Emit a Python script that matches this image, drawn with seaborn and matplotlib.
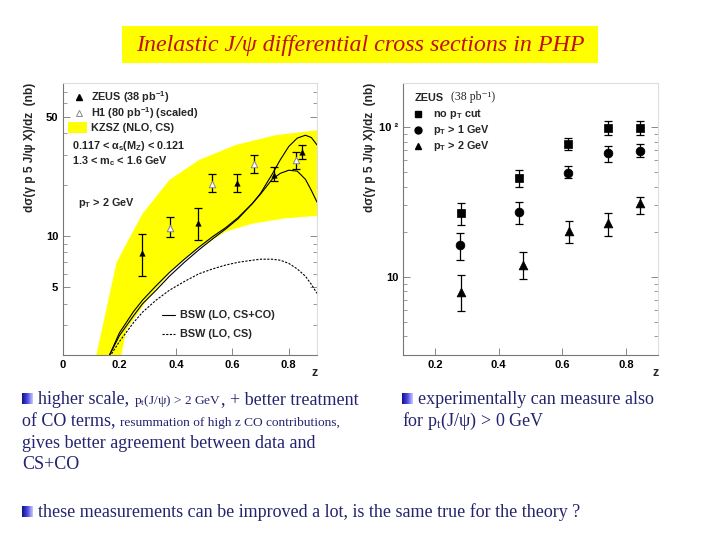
import numpy as np
import seaborn as sns
import matplotlib.pyplot as plt
from matplotlib.patches import Rectangle
from matplotlib.ticker import FixedLocator, FixedFormatter, NullFormatter

# ---- left panel: pT > 2 GeV, ZEUS vs H1 vs theory ----
zeus_z = [0.28, 0.478, 0.618, 0.747, 0.847]
zeus_y = [7.9, 11.9, 20.4, 22.9, 31.2]
zeus_lo = [5.8, 9.4, 18.1, 21.0, 28.2]
zeus_hi = [10.3, 14.6, 23.2, 25.4, 34.4]

h1_z = [0.379, 0.527, 0.677, 0.826]
h1_y = [11.2, 20.3, 26.5, 27.9]
h1_lo = [9.9, 18.0, 23.5, 24.8]
h1_hi = [12.9, 23.0, 29.8, 31.0]

# KZSZ NLO band edges
kzsz_up_z = [0.118, 0.19, 0.235, 0.282, 0.377, 0.482, 0.612, 0.753, 0.9]
kzsz_up = [2.0, 7.0, 9.7, 13.5, 21.3, 27.9, 34.2, 39.0, 41.7]
kzsz_lo_z = [0.207, 0.224, 0.306, 0.388, 0.477, 0.577, 0.671, 0.788, 0.9]
kzsz_lo = [2.0, 2.8, 4.4, 6.3, 8.4, 10.6, 11.8, 12.7, 13.1]

# BSW curves
bsw_z = [0.165, 0.2, 0.25, 0.282, 0.33, 0.377, 0.43, 0.482, 0.53, 0.577,
         0.62, 0.671, 0.70, 0.741, 0.77, 0.80, 0.83, 0.859, 0.88, 0.9]
bsw_csco_1 = [2.0, 2.6, 3.4, 4.0, 4.8, 5.8, 7.0, 8.3, 9.6, 11.0,
              12.6, 15.5, 17.8, 23.0, 28.0, 33.5, 37.5, 39.0, 37.8, 34.2]
bsw_csco_2 = [2.0, 2.7, 3.6, 4.2, 5.1, 6.1, 7.3, 8.6, 9.9, 11.2,
              12.8, 15.5, 17.6, 21.5, 23.3, 24.3, 24.0, 21.5, 18.5, 15.8]
bsw_cs = [1.95, 2.4, 3.1, 3.57, 4.2, 4.8, 5.4, 6.0, 6.4, 6.75,
          7.0, 7.2, 7.3, 7.3, 7.2, 6.9, 6.4, 5.8, 5.2, 4.6]

# ---- right panel: ZEUS for three pT cuts ----
nocut_z = [0.283, 0.465, 0.617, 0.745, 0.843]
nocut_y = [26.5, 45.5, 77, 98, 98]
nocut_lo = [22.1, 40, 70, 88.5, 88]
nocut_hi = [31, 51.7, 84, 110, 110]

pt1_z = [0.278, 0.465, 0.617, 0.745, 0.843]
pt1_y = [16.3, 27.2, 49.6, 66.8, 69.5]
pt1_lo = [12.9, 22.5, 45.5, 58.7, 62.8]
pt1_hi = [19.7, 31.7, 55, 74.8, 77]

pt2_z = [0.283, 0.476, 0.62, 0.745, 0.845]
pt2_y = [7.94, 12.0, 20.2, 23.0, 31.2]
pt2_lo = [5.9, 9.6, 16.9, 18.8, 26.2]
pt2_hi = [10.3, 14.7, 23.7, 26.8, 34.3]

TXT = '#24246e'
SANS = 'Liberation Sans'
SERIF = 'Liberation Serif'

sns.set_theme(style='ticks')
plt.rcParams['font.family'] = [SANS, 'DejaVu Sans']
plt.rcParams['font.weight'] = 'bold'

fig = plt.figure(figsize=(7.2, 5.4), dpi=100)
fig.patch.set_facecolor('white')


def style_axes(ax):
    ax.set_yscale('log')
    ax.set_facecolor('white')
    for s in ['left', 'bottom']:
        ax.spines[s].set_color('#777777')
        ax.spines[s].set_linewidth(0.8)
    for s in ['top', 'right']:
        ax.spines[s].set_visible(True)
        ax.spines[s].set_color('#dddddd')
        ax.spines[s].set_linewidth(0.8)
    ax.tick_params(axis='both', which='both', direction='in', right=True,
                   colors='#888888', labelcolor='black', labelsize=8)
    ax.tick_params(which='major', length=5, width=0.7)
    ax.tick_params(which='minor', length=3, width=0.6)
    ax.set_xlabel('')
    ax.set_ylabel('')
    ax.text(0.99, -0.045, 'z', transform=ax.transAxes, ha='center', va='top',
            fontsize=9, fontweight='bold')
    ax.text(-0.13, 1.0, 'd\u03c3(\u03b3 p 5 J/\u03c8 X)/dz  (nb)', transform=ax.transAxes,
            rotation=90, ha='center', va='top', fontsize=8.6, fontweight='bold')


def errbars(ax, z, y, lo, hi):
    y = np.array(y)
    err = [y - np.array(lo), np.array(hi) - y]
    ax.errorbar(z, y, yerr=err, fmt='none', ecolor='black', elinewidth=0.9,
                capsize=3, capthick=0.9, zorder=3)


# ---------------- left panel ----------------
axl = fig.add_axes([63 / 720, 1 - 355 / 540, 254 / 720, 272 / 540])
band_x = kzsz_up_z + kzsz_lo_z[::-1]
band_y = kzsz_up + kzsz_lo[::-1]
axl.fill(band_x, band_y, color='#ffff00', lw=0, zorder=1)

sns.lineplot(x=bsw_z, y=bsw_csco_1, ax=axl, color='black', lw=0.8, zorder=2)
sns.lineplot(x=bsw_z, y=bsw_csco_2, ax=axl, color='black', lw=0.8, zorder=2)
sns.lineplot(x=bsw_z, y=bsw_cs, ax=axl, color='black', lw=0.8, zorder=2,
             dashes=False, linestyle=(0, (2, 1.3)))

errbars(axl, zeus_z, zeus_y, zeus_lo, zeus_hi)
errbars(axl, h1_z, h1_y, h1_lo, h1_hi)
sns.scatterplot(x=zeus_z, y=zeus_y, ax=axl, marker='^', s=16, color='black',
                edgecolor='black', zorder=4)
sns.scatterplot(x=h1_z, y=h1_y, ax=axl, marker='^', s=22, facecolor='white',
                edgecolor='#888888', linewidth=0.7, zorder=4)

axl.set_xlim(0, 0.9)
axl.set_ylim(2, 79)
style_axes(axl)
axl.set_xticks([0, 0.2, 0.4, 0.6, 0.8])
axl.set_xticklabels(['0', '0.2', '0.4', '0.6', '0.8'], fontweight='bold')
axl.yaxis.set_major_locator(FixedLocator([5, 10, 50]))
axl.yaxis.set_major_formatter(FixedFormatter(['5', '10', '50']))
axl.yaxis.set_minor_locator(FixedLocator([2, 3, 4, 6, 7, 8, 9, 20, 30, 40, 60, 70]))
axl.yaxis.set_minor_formatter(NullFormatter())
for lab in axl.get_yticklabels():
    lab.set_fontweight('bold')

# left legend
tA = axl.transAxes
axl.plot([0.063], [0.948], marker='^', ms=4.5, color='black', transform=tA, clip_on=False)
axl.plot([0.063], [0.89], marker='^', ms=5, mfc='white', mec='#888888', mew=0.7,
         transform=tA, clip_on=False)
axl.add_patch(Rectangle((0.02, 0.818), 0.075, 0.037, transform=tA, color='#ffff00', lw=0))
lk = dict(transform=tA, fontsize=7.8, fontweight='bold', va='center', ha='left')
axl.text(0.11, 0.948, 'ZEUS (38 pb$^{\\mathregular{-1}}$)', **lk)
axl.text(0.11, 0.89, 'H1 (80 pb$^{\\mathregular{-1}}$) (scaled)', **lk)
axl.text(0.11, 0.835, 'KZSZ (NLO, CS)', **lk)
axl.text(0.035, 0.768, '0.117 < \u03b1$_{\\mathregular{s}}$(M$_{\\mathregular{Z}}$) < 0.121', **lk)
axl.text(0.035, 0.713, '1.3 < m$_{\\mathregular{c}}$ < 1.6 GeV', **lk)
axl.text(0.059, 0.559, 'p$_{\\mathregular{T}}$ > 2 GeV', **lk)
axl.plot([0.39, 0.441], [0.147, 0.147], color='black', lw=0.8, transform=tA)
axl.plot([0.39, 0.441], [0.077, 0.077], color='black', lw=0.8, ls=(0, (2, 1.3)), transform=tA)
axl.text(0.461, 0.147, 'BSW (LO, CS+CO)', **lk)
axl.text(0.461, 0.077, 'BSW (LO, CS)', **lk)

# ---------------- right panel ----------------
axr = fig.add_axes([403 / 720, 1 - 355 / 540, 254.7 / 720, 272 / 540])
errbars(axr, nocut_z, nocut_y, nocut_lo, nocut_hi)
errbars(axr, pt1_z, pt1_y, pt1_lo, pt1_hi)
errbars(axr, pt2_z, pt2_y, pt2_lo, pt2_hi)
sns.scatterplot(x=nocut_z, y=nocut_y, ax=axr, marker='s', s=40, color='black',
                edgecolor='black', zorder=4)
sns.scatterplot(x=pt1_z, y=pt1_y, ax=axr, marker='o', s=40, color='black',
                edgecolor='black', zorder=4)
sns.scatterplot(x=pt2_z, y=pt2_y, ax=axr, marker='^', s=40, color='black',
                edgecolor='black', zorder=4)
axr.set_xlim(0.1, 0.9)
axr.set_ylim(3, 197)
style_axes(axr)
axr.set_xticks([0.2, 0.4, 0.6, 0.8])
axr.set_xticklabels(['0.2', '0.4', '0.6', '0.8'], fontweight='bold')
axr.yaxis.set_major_locator(FixedLocator([10, 100]))
axr.yaxis.set_major_formatter(FixedFormatter(['10', '10 \u00b2']))
axr.yaxis.set_minor_locator(FixedLocator([3, 4, 5, 6, 7, 8, 9, 20, 30, 40, 50, 60, 70, 80, 90]))
axr.yaxis.set_minor_formatter(NullFormatter())
for lab in axr.get_yticklabels():
    lab.set_fontweight('bold')

tB = axr.transAxes
axr.text(0.047, 0.945, 'ZEUS', transform=tB, fontsize=7.8, fontweight='bold',
         va='center', ha='left')
axr.text(0.19, 0.948, '(38 pb\u207b\u00b9)', transform=tB, fontsize=8.5,
         family=[SERIF, 'DejaVu Serif', 'DejaVu Sans'], fontweight='normal',
         va='center', ha='left')
for yy, mk, lab in [(0.886, 's', 'no p$_{\\mathregular{T}}$ cut'),
                    (0.827, 'o', 'p$_{\\mathregular{T}}$ > 1 GeV'),
                    (0.768, '^', 'p$_{\\mathregular{T}}$ > 2 GeV')]:
    axr.plot([0.059], [yy], marker=mk, ms=5, color='black', transform=tB, clip_on=False)
    axr.text(0.118, yy, lab, transform=tB, fontsize=7.8, fontweight='bold',
             va='center', ha='left')

# ---------------- slide text ----------------
fig.patches.append(Rectangle((122 / 720, 1 - 63 / 540), 476 / 720, 37 / 540,
                             transform=fig.transFigure, color='#ffff00', lw=0, zorder=0))
fig.text(360 / 720, 1 - 45 / 540, 'Inelastic J/\u03c8 differential cross sections in PHP',
         ha='center', va='center', fontsize=17.3, style='italic', fontweight='normal',
         family=SERIF, color='#c01010')

renderer = fig.canvas.get_renderer()


def put_line(x, y, parts):
    for s, size in parts:
        t = fig.text(x / 720, 1 - y / 540, s, fontsize=size, color=TXT, family=SERIF,
                     fontweight='normal', va='baseline', ha='left')
        x += t.get_window_extent(renderer=renderer).width


def bullet(x, y):
    b = fig.add_axes([x / 720, 1 - (y + 11) / 540, 11 / 720, 11 / 540])
    grad = np.linspace(0, 1, 32)[None, :]
    b.imshow(grad, cmap=sns.blend_palette(['#101090', '#4a4ae0', '#c8c8ff'], as_cmap=True),
             aspect='auto')
    b.axis('off')


BIG, SMALL = 13, 9.6
bullet(22, 393)
put_line(38, 404, [('higher scale, ', BIG), ('p$\\mathregular{_t}$(J/\u03c8) > 2 GeV', SMALL),
                   (', + better treatment', BIG)])
put_line(22, 426, [('of CO terms, ', BIG), ('resummation of high z CO contributions,', SMALL)])
put_line(22, 448, [('gives better agreement between data and', BIG)])
put_line(22, 469, [('CS+CO', BIG)])
bullet(402, 393)
put_line(418, 404, [('experimentally can measure also', BIG)])
put_line(402, 426, [('for p$\\mathregular{_t}$(J/\u03c8) > 0 GeV', BIG)])
bullet(22, 506)
put_line(38, 517, [('these measurements can be improved a lot, is the same true for the theory ?', BIG)])

fig.savefig('out.png', dpi=100, facecolor='white')
